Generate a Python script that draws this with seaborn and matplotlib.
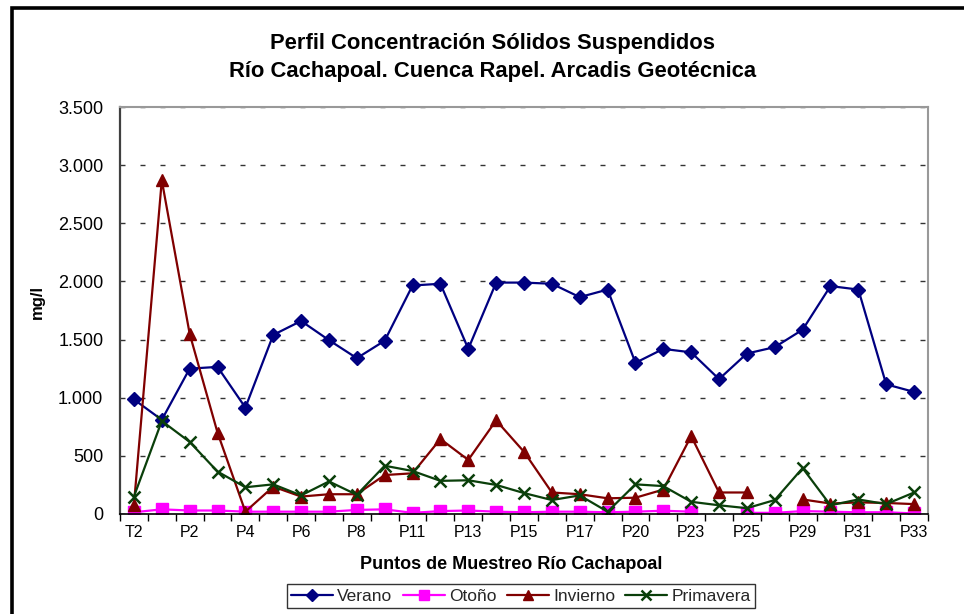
import numpy as np
import pandas as pd
import matplotlib
matplotlib.use("Agg")
import matplotlib.pyplot as plt
import seaborn as sns
from matplotlib.lines import Line2D
from matplotlib.patches import Rectangle
from matplotlib.ticker import FuncFormatter

categories = ["T2", "P1", "P2", "P3", "P4", "P5", "P6", "P7", "P8", "P10",
              "P11", "P12", "P13", "P14", "P15", "P16", "P17", "P18", "P20", "P22",
              "P23", "P24", "P25", "P26", "P29", "P30", "P31", "P32", "P33"]
verano = [985, 810, 1250, 1265, 915, 1540, 1660, 1495, 1340, 1490,
          1965, 1980, 1420, 1990, 1990, 1980, 1865, 1930, 1300, 1420,
          1390, 1160, 1380, 1435, 1585, 1960, 1930, 1115, 1050]
otono = [15, 40, 30, 30, 20, 20, 20, 20, 35, 40,
         10, 25, 30, 20, 15, 20, 20, 15, 20, 28,
         20, np.nan, 10, 10, 25, 20, 15, 15, 5]
invierno = [80, 2870, 1550, 700, 20, 235, 150, 170, 170, 335,
            350, 645, 465, 805, 535, 185, 170, 135, 140, 210,
            670, 185, 185, np.nan, 125, 90, 100, 95, 85]
primavera = [150, 800, 620, 365, 230, 255, 160, 280, 165, 415,
             370, 285, 290, 250, 180, 120, 160, 20, 255, 240,
             105, 75, 50, 120, 395, 75, 125, 85, 185]
series_names = ["Verano", "Otoño", "Invierno", "Primavera"]
title_lines = ["Perfil Concentración Sólidos Suspendidos",
               "Río Cachapoal. Cuenca Rapel. Arcadis Geotécnica"]

sns.set_theme(style="white")
plt.rcParams['font.family'] = ['Liberation Sans', 'DejaVu Sans']

W, H = 964, 614
fig = plt.figure(figsize=(W / 100, H / 100), dpi=100)
ax = fig.add_axes([120 / W, (H - 514) / H, 808 / W, 407 / H])

styles = {
    "Verano": dict(color="#000080", marker="D", ms=7.5, mew=1),
    "Otoño": dict(color="#FF00FF", marker="s", ms=8.5, mew=1),
    "Invierno": dict(color="#800000", marker="^", ms=9, mew=1),
    "Primavera": dict(color="#0A3F0A", marker="x", ms=8.5, mew=1.8),
}
data = {"Verano": verano, "Otoño": otono, "Invierno": invierno, "Primavera": primavera}
xpos = np.arange(len(categories))

for name in series_names:
    v = np.array(data[name], dtype=float)
    seg = np.cumsum(np.isnan(v))
    df = pd.DataFrame({"x": xpos, "y": v, "seg": seg}).dropna()
    st = styles[name]
    sns.lineplot(data=df, x="x", y="y", units="seg", estimator=None,
                 color=st["color"], marker=st["marker"], markersize=st["ms"],
                 markeredgecolor=st["color"], markeredgewidth=st["mew"],
                 linewidth=1.6, ax=ax, legend=False)

ax.set_xlim(-0.5, len(categories) - 0.5)
ax.set_ylim(0, 3500)
ax.set_yticks(np.arange(0, 3501, 500))
ax.yaxis.set_major_formatter(FuncFormatter(lambda v, p: f"{int(v):,}".replace(",", ".")))
ax.yaxis.grid(True, linestyle=(0, (3.6, 10.8)), color="#333333", linewidth=1)
ax.xaxis.grid(False)

ax.set_xticks(np.arange(-0.5, len(categories), 1))
ax.set_xticklabels([])
ax.set_xticks(xpos[::2], [categories[i] for i in xpos[::2]], minor=True)
ax.tick_params(axis="x", which="major", direction="out", length=5, width=1, color="black", bottom=True)
ax.tick_params(axis="x", which="minor", length=0, pad=8, labelsize=11.5, labelcolor="black")
ax.tick_params(axis="y", length=0, pad=12, labelsize=13, labelcolor="black")

for s in ["top", "right"]:
    ax.spines[s].set_color("#999999")
    ax.spines[s].set_linewidth(1.5)
ax.spines["left"].set_color("#404040")
ax.spines["left"].set_linewidth(1.6)
ax.spines["bottom"].set_color("black")
ax.spines["bottom"].set_linewidth(1.2)

ax.set_ylabel("mg/l", fontsize=12, fontweight="bold", color="black")
ax.yaxis.set_label_coords((45 - 120) / 808, 0.52)
ax.set_xlabel("Puntos de Muestreo Río Cachapoal", fontsize=13, fontweight="bold", color="black")
ax.xaxis.set_label_coords((511 - 120) / 808, -(556 - 514) / 407)

fig.text(493 / W, 1 - 44 / H, title_lines[0], ha="center", va="center",
         fontsize=15.8, fontweight="bold", color="black")
fig.text(493 / W, 1 - 72 / H, title_lines[1], ha="center", va="center",
         fontsize=15.8, fontweight="bold", color="black")

handles = [Line2D([], [], color=styles[n]["color"], marker=styles[n]["marker"],
                  markersize=styles[n]["ms"] * 0.8, markeredgecolor=styles[n]["color"],
                  markeredgewidth=styles[n]["mew"], linewidth=1.6) for n in series_names]
fig.legend(handles, series_names, loc="center", bbox_to_anchor=(521 / W, 1 - 596 / H),
           ncol=4, frameon=True, fancybox=False, edgecolor="black", fontsize=12.5,
           handlelength=2.4, columnspacing=0.6, handletextpad=0.25, borderpad=0.25,
           borderaxespad=0)
leg = fig.legends[0]
leg.get_frame().set_linewidth(1.0)

fig.add_artist(Rectangle((11.5 / W, -0.1), 1.2, 1.1 - 8.5 / H, transform=fig.transFigure,
                         fill=False, linewidth=2.6, edgecolor="black"))

fig.savefig("out.png", dpi=100)
